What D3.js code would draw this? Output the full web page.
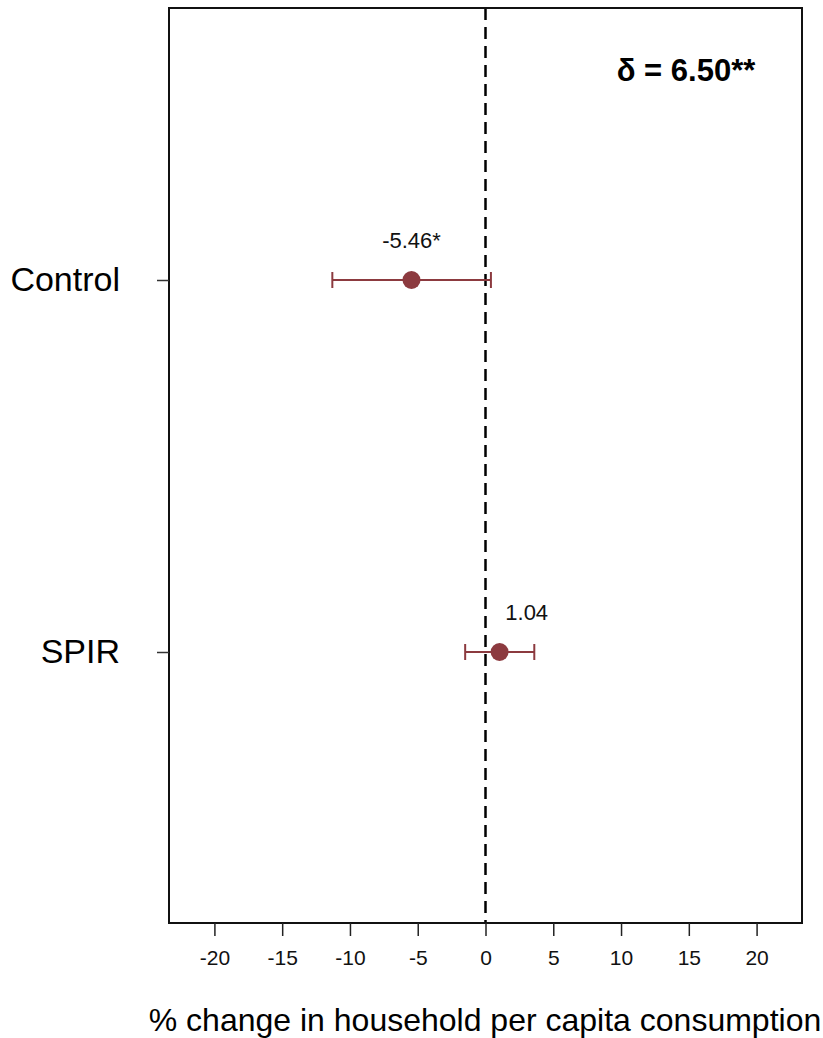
<!DOCTYPE html>
<html>
<head>
<meta charset="utf-8">
<script src="https://cdn.jsdelivr.net/npm/d3@7"></script>
<style>
  body { margin: 0; background: #fff; }
  text { font-family: "Liberation Sans", Arial, sans-serif; }
</style>
</head>
<body>
<svg id="chart" width="823" height="1038"></svg>
<script>
// data

var groups = ["Control", "SPIR"];
var estimates = [-5.46, 1.04];
var lower = [-11.3, -1.5];
var upper = [0.4, 3.6];
var pointLabels = ["-5.46*", "1.04"];
var xTicks = [-20, -15, -10, -5, 0, 5, 10, 15, 20];
var deltaLabel = "\u03b4 = 6.50**";
var xTitle = "% change in household per capita consumption";

// layout (window.top is read only, so use other names)

var svg = d3.select("#chart");
var plotLeft = 169, plotRight = 802, plotTop = 8, plotBottom = 923;
var red = "#8c3a3f";

var x = d3.scaleLinear().domain([-23.35, 23.35]).range([plotLeft, plotRight]);
var y = d3.scalePoint().domain(groups).range([280, 652]);

// zero line

svg.append("line")
  .attr("x1", x(0)).attr("x2", x(0))
  .attr("y1", plotTop).attr("y2", plotBottom)
  .attr("stroke", "#000").attr("stroke-width", 2.5)
  .attr("stroke-dasharray", "12,7");

// frame

svg.append("rect")
  .attr("x", plotLeft).attr("y", plotTop)
  .attr("width", plotRight - plotLeft).attr("height", plotBottom - plotTop)
  .attr("fill", "none").attr("stroke", "#111").attr("stroke-width", 2);

// x axis

var xAxis = svg.append("g")
  .attr("transform", "translate(0," + plotBottom + ")")
  .call(d3.axisBottom(x).tickValues(xTicks)
    .tickFormat(function(d) { return String(d); })
    .tickSize(13).tickSizeOuter(0).tickPadding(14));
xAxis.select(".domain").remove();
xAxis.selectAll(".tick line").attr("stroke", "#222").attr("stroke-width", 1.5);
xAxis.selectAll(".tick text")
  .attr("font-size", 21).attr("fill", "#111")
  .style("font-family", "'Liberation Sans', Arial, sans-serif");

// y axis

var yAxis = svg.append("g")
  .attr("transform", "translate(" + plotLeft + ",0)")
  .call(d3.axisLeft(y).tickSize(12).tickSizeOuter(0).tickPadding(37));
yAxis.select(".domain").remove();
yAxis.selectAll(".tick line").attr("stroke", "#333").attr("stroke-width", 1.5);
yAxis.selectAll(".tick text")
  .attr("font-size", 34).attr("fill", "#000")
  .style("font-family", "'Liberation Sans', Arial, sans-serif");

// error bars

var rows = groups.map(function(g, i) {
  return { g: g, est: estimates[i], lo: lower[i], hi: upper[i], label: pointLabels[i] };
});

var bar = svg.selectAll(".bar").data(rows).enter().append("g").attr("class", "bar");

bar.append("line")
  .attr("x1", function(d) { return x(d.lo); })
  .attr("x2", function(d) { return x(d.hi); })
  .attr("y1", function(d) { return y(d.g); })
  .attr("y2", function(d) { return y(d.g); })
  .attr("stroke", red).attr("stroke-width", 2);

["lo", "hi"].forEach(function(k) {
  bar.append("line")
    .attr("x1", function(d) { return x(d[k]); })
    .attr("x2", function(d) { return x(d[k]); })
    .attr("y1", function(d) { return y(d.g) - 8; })
    .attr("y2", function(d) { return y(d.g) + 8; })
    .attr("stroke", red).attr("stroke-width", 2);
});

bar.append("circle")
  .attr("cx", function(d) { return x(d.est); })
  .attr("cy", function(d) { return y(d.g); })
  .attr("r", 9)
  .attr("fill", red);

// labels above points, nudged right when they would sit on the zero line

bar.append("text")
  .attr("x", function(d) { return x(Math.abs(d.est) < 2 ? d.est + 2 : d.est); })
  .attr("y", function(d) { return y(d.g) - 32; })
  .attr("text-anchor", "middle")
  .attr("font-size", 22)
  .attr("fill", "#111")
  .text(function(d) { return d.label; });

// delta annotation

svg.append("text")
  .attr("x", 686).attr("y", 81)
  .attr("text-anchor", "middle")
  .attr("font-size", 31).attr("font-weight", "bold")
  .text(deltaLabel);

// x title

svg.append("text")
  .attr("x", 485).attr("y", 1031)
  .attr("text-anchor", "middle")
  .attr("font-size", 32)
  .text(xTitle);
</script>
</body>
</html>
